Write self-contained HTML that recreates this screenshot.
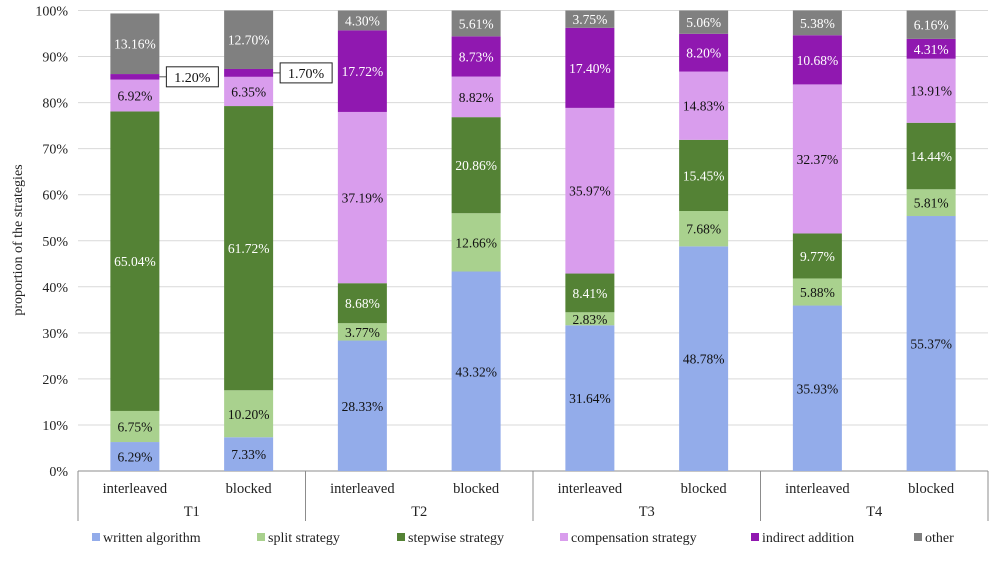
<!DOCTYPE html>
<html><head><meta charset="utf-8"><style>
body{margin:0;background:#fff;font-family:"Liberation Serif",serif;}
svg text{font-family:"Liberation Serif",serif;}
</style></head><body>
<svg id="chart" width="1000" height="558" viewBox="0 0 1000 558" xmlns="http://www.w3.org/2000/svg"></svg>
<script>
const groups = ["T1","T2","T3","T4"];
const conditions = ["interleaved","blocked"];
const seriesNames = ["written algorithm","split strategy","stepwise strategy","compensation strategy","indirect addition","other"];
const writtenAlgorithm = [6.29,7.33,28.33,43.32,31.64,48.78,35.93,55.37];
const splitStrategy = [6.75,10.20,3.77,12.66,2.83,7.68,5.88,5.81];
const stepwiseStrategy = [65.04,61.72,8.68,20.86,8.41,15.45,9.77,14.44];
const compensationStrategy = [6.92,6.35,37.19,8.82,35.97,14.83,32.37,13.91];
const indirectAddition = [1.20,1.70,17.72,8.73,17.40,8.20,10.68,4.31];
const other = [13.16,12.70,4.30,5.61,3.75,5.06,5.38,6.16];
const yTicks = [0,10,20,30,40,50,60,70,80,90,100];

const series=[writtenAlgorithm,splitStrategy,stepwiseStrategy,compensationStrategy,indirectAddition,other];
const colors=["#93acea","#a9d18e","#548235","#d99ded","#9018b0","#808080"];
const textColors=["#111","#111","#fff","#111","#fff","#fff"];
const svg=document.getElementById('chart');
const NS="http://www.w3.org/2000/svg";
const X0=78,X1=988,Y0=471,Y1=10.5;
const y=v=>Y0-(v/100)*(Y0-Y1);
const catW=(X1-X0)/8;
const xc=i=>X0+catW*(i+0.5);
const BW=49;
function el(t,a,txt){const e=document.createElementNS(NS,t);for(const k in a)e.setAttribute(k,a[k]);if(txt!==undefined)e.textContent=txt;svg.appendChild(e);return e;}

yTicks.forEach(t=>{
  const g=el('line',{x1:X0,x2:X1,y1:y(t),y2:y(t),stroke:t===0?'#8c8c8c':'#d9d9d9','stroke-width':1});
  
  
  const l=el('text',{x:68,y:y(t)+5,'text-anchor':'end','font-size':14,fill:'#222'},t+'%');
  
  
});
const yt=el('text',{x:22,y:240,'text-anchor':'middle','font-size':14,fill:'#222',transform:'rotate(-90 22 240)'},'proportion of the strategies');



for(let i=0;i<8;i++){
  let cum=0;
  series.forEach((s,k)=>{
    const v=s[i];const top=cum+v;
    const r=el('rect',{x:xc(i)-BW/2,y:y(top),width:BW,height:y(cum)-y(top),fill:colors[k]});
    
    
    const mid=(y(cum)+y(top))/2;
    if(v<2){
      const bx=xc(i)+BW/2+7;
      el('line',{x1:xc(i)+BW/2,y1:mid,x2:bx,y2:mid,stroke:'#555','stroke-width':1});
      const b=el('rect',{x:bx,y:mid-10,width:52,height:20,fill:'#fff',stroke:'#222','stroke-width':1});
      
      
      const t=el('text',{x:bx+26,y:mid+5,'text-anchor':'middle','font-size':14,fill:'#111'},v.toFixed(2)+'%');
      
      
    } else {
      const t=el('text',{x:xc(i),y:mid+5,'text-anchor':'middle','font-size':13.5,fill:textColors[k]},v.toFixed(2)+'%');
      
      
    }
    cum=top;
  });
  const c=el('text',{x:xc(i),y:493,'text-anchor':'middle','font-size':14.5,fill:'#222'},conditions[i%2]);
  
  
}
for(let g=0;g<=4;g++){
  const x=X0+g*catW*2;
  el('line',{x1:x,x2:x,y1:Y0,y2:521,stroke:'#8c8c8c','stroke-width':1});
}
groups.forEach((gname,g)=>{
  const t=el('text',{x:X0+catW*(2*g+1),y:516,'text-anchor':'middle','font-size':14.5,fill:'#222'},gname);
  
  
});
const lx=[92,257,397,560,751,914];
seriesNames.forEach((n,k)=>{
  const s=el('rect',{x:lx[k],y:533,width:8,height:8,fill:colors[k]});
  
  
  const t=el('text',{x:lx[k]+11,y:542,'font-size':14,fill:'#222'},n);
  
  
});
</script>
</body></html>
